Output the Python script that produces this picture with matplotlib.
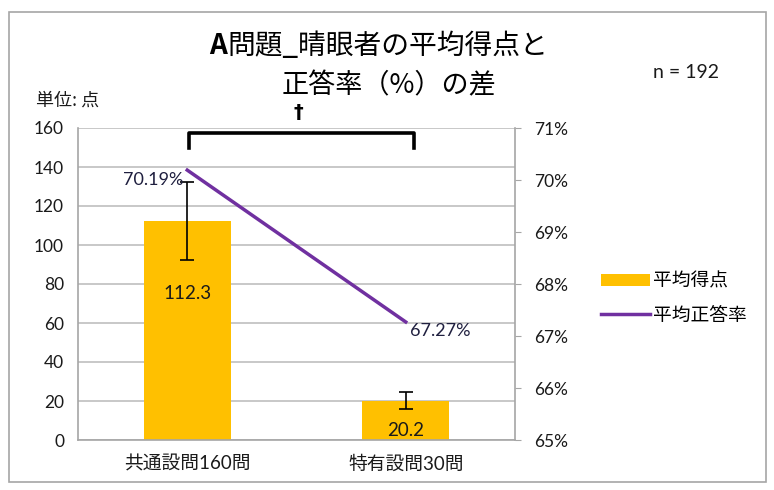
import matplotlib
matplotlib.use("Agg")
import matplotlib.pyplot as plt
from matplotlib.patches import Rectangle
from matplotlib.lines import Line2D

plt.rcParams['font.family'] = ['Lato', 'Noto Sans CJK JP', 'DejaVu Sans']

categories = ["共通設問160問", "特有設問30問"]
mean_scores = [112.3, 20.2]
score_err = [20.0, 4.4]
accuracy = [70.19, 67.27]
left_ticks = [0, 20, 40, 60, 80, 100, 120, 140, 160]
right_ticks = [65, 66, 67, 68, 69, 70, 71]

W, H = 774, 490
fig = plt.figure(figsize=(W / 100, H / 100), dpi=100)

# chart border
fig.patches.append(Rectangle((9 / W, 1 - 482 / H), (766 - 9) / W, (482 - 12) / H,
                             transform=fig.transFigure, fill=False,
                             edgecolor='#a6a6a6', lw=1.2))

x0, x1, y0, y1 = 78, 515, 128, 440
ax = fig.add_axes([x0 / W, 1 - y1 / H, (x1 - x0) / W, (y1 - y0) / H])
ax2 = ax.twinx()

xs = list(range(len(categories)))
bars = ax.bar(xs, mean_scores, width=0.40, color='#ffc000', zorder=2,
              yerr=score_err, error_kw=dict(ecolor='black', elinewidth=1.2,
                                            capsize=5, capthick=1.2, zorder=3))
ax.set_xlim(-0.5, 1.5)
ax.set_ylim(0, 160)
ax.set_yticks(left_ticks)
ax.set_yticklabels([str(v) for v in left_ticks])
ax.yaxis.grid(True, color='#bfbfbf', lw=1.2, zorder=0)
ax.set_axisbelow(True)
ax.set_xticks(xs)
ax.set_xticklabels(categories, fontsize=13.5, color='#1a1a1a')
ax.tick_params(axis='x', length=0, pad=11)
ax.tick_params(axis='y', length=0, labelsize=12.5, pad=10, labelcolor='#1a1a1a')
for s in ['top', 'right']:
    ax.spines[s].set_visible(False)
ax.spines['left'].set_color('#a6a6a6')
ax.spines['left'].set_linewidth(1.2)
ax.spines['bottom'].set_color('#a6a6a6')
ax.spines['bottom'].set_linewidth(1.2)

label_pos = [75, 5]
for xi, v, yl in zip(xs, mean_scores, label_pos):
    ax.text(xi, yl, f"{v:.1f}", ha='center', va='center', fontsize=13.5,
            color='#1a1a1a', zorder=4)

line, = ax2.plot(xs, accuracy, color='#7030a0', lw=2.5, zorder=5)
ax2.set_ylim(65, 71)
ax2.set_yticks(right_ticks)
ax2.set_yticklabels([f"{v}%" for v in right_ticks])
ax2.tick_params(axis='y', length=4, color='#a6a6a6', labelsize=12.5, pad=10,
                labelcolor='#1a1a1a')
for s in ['top', 'left', 'bottom']:
    ax2.spines[s].set_visible(False)
ax2.spines['right'].set_color('#a6a6a6')
ax2.spines['right'].set_linewidth(1.2)

ax2.text(xs[0] - 0.02, accuracy[0] - 0.03, f"{accuracy[0]:.2f}%", ha='right', va='top',
         fontsize=13, color='#1f1f3f')
ax2.text(xs[1] + 0.02, accuracy[1] - 0.02, f"{accuracy[1]:.2f}%", ha='left', va='top',
         fontsize=13, color='#1f1f3f')

# significance bracket
bx0, bx1 = 189, 414
by_top, by_bot = 133, 148
fig.add_artist(Line2D([bx0 / W, bx0 / W, bx1 / W, bx1 / W],
                      [1 - by_bot / H, 1 - by_top / H, 1 - by_top / H, 1 - by_bot / H],
                      transform=fig.transFigure, color='black', lw=2.6,
                      solid_joinstyle='round'))
fig.text(298 / W, 1 - 112 / H, "†", ha='center', va='center', fontsize=14,
         fontweight='bold', family=['DejaVu Sans'])

# titles
fig.text(227 / W, 1 - 46 / H, "A", ha='right', va='center',
         fontsize=20, fontweight='bold', family=['Noto Sans CJK JP'])
fig.text(227 / W, 1 - 46 / H, "問題_晴眼者の平均得点と", ha='left', va='center',
         fontsize=20, family=['Noto Sans CJK JP'])
fig.text(389 / W, 1 - 86 / H, "正答率（%）の差", ha='center', va='center',
         fontsize=19.5, family=['Noto Sans CJK JP'])
fig.text(686 / W, 1 - 73 / H, "n = 192", ha='center', va='center', fontsize=14,
         color='#1a1a1a')
fig.text(36 / W, 1 - 101 / H, "単位: 点", ha='left', va='center', fontsize=13,
         family=['Noto Sans CJK JP'], color='#1a1a1a')

# legend
fig.legend([bars, line], ["平均得点", "平均正答率"], loc='center left',
           bbox_to_anchor=(584 / W, 1 - 298 / H), frameon=False,
           handlelength=2.6, handleheight=0.6, handletextpad=0.2, labelspacing=0.7,
           prop={'family': ['Noto Sans CJK JP'], 'size': 13.5})

fig.savefig("out.png", dpi=100, facecolor='white')
